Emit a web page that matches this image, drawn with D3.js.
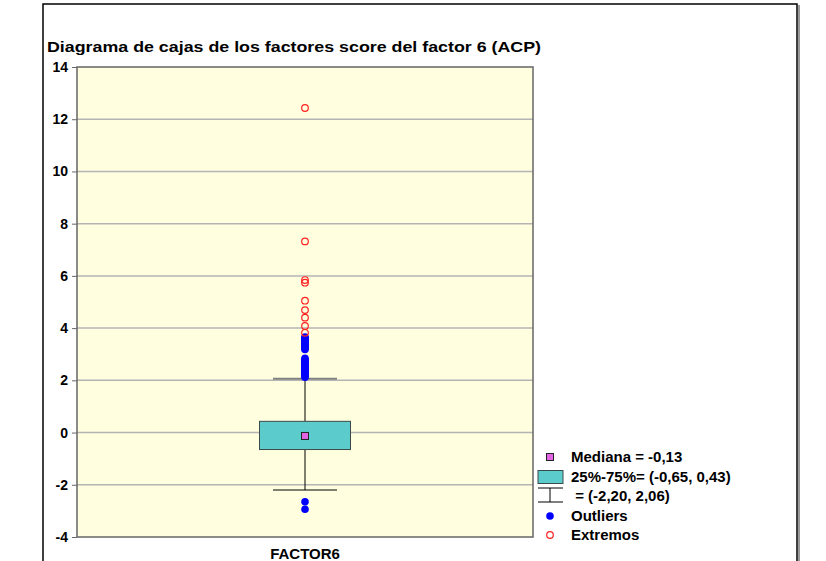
<!DOCTYPE html>
<html>
<head>
<meta charset="utf-8">
<script src="https://cdn.jsdelivr.net/npm/d3@7"></script>
<style>
  body { margin: 0; background: #fff; }
  text { font-family: Arial, "Liberation Sans", sans-serif; font-weight: bold; fill: #000; }
</style>
</head>
<body>
<svg id="chart" width="826" height="561"></svg>
<script>
// data
var category = "FACTOR6"
var yTicks = [-4, -2, 0, 2, 4, 6, 8, 10, 12, 14]
var median = -0.13
var quartiles = [-0.65, 0.43]
var whiskers = [-2.20, 2.06]
var outliers = [-2.65, -2.94,
  2.12, 2.16, 2.20, 2.24, 2.28, 2.32, 2.36, 2.40, 2.44, 2.48, 2.52, 2.56, 2.60, 2.64, 2.68, 2.72, 2.76, 2.80, 2.84,
  3.18, 3.22, 3.26, 3.30, 3.34, 3.38, 3.42, 3.46, 3.50, 3.54, 3.58, 3.62, 3.66]
var extremes = [3.82, 4.08, 4.40, 4.69, 5.05, 5.74, 5.84, 7.32, 12.43]
var legendLabels = ["Mediana = -0,13", "25%-75%= (-0,65, 0,43)", " = (-2,20, 2,06)", "Outliers", "Extremos"]

var svg = d3.select("#chart")
var plot = {left: 77, top: 67, right: 533, bottom: 537}

var x = d3.scaleBand().domain([category]).range([plot.left, plot.right])
var y = d3.scaleLinear().domain([-4, 14]).range([plot.bottom, plot.top])
var cx = x(category) + x.bandwidth() / 2

// outer frame
svg.append("line").attr("x1", 799).attr("y1", 5).attr("x2", 799).attr("y2", 561).attr("stroke", "#999").attr("stroke-width", 2)
svg.append("path").attr("d", "M43,561 V4 H797 V561").attr("fill", "none").attr("stroke", "#000").attr("stroke-width", 1.5)

svg.append("text").attr("x", 47).attr("y", 52).attr("font-size", 15)
  .attr("textLength", 494).attr("lengthAdjust", "spacingAndGlyphs")
  .text("Diagrama de cajas de los factores score del factor 6 (ACP)")

/*
plot background and grid
*/
svg.append("rect").attr("x", plot.left).attr("y", plot.top)
  .attr("width", plot.right - plot.left).attr("height", plot.bottom - plot.top)
  .attr("fill", "#ffffdf")

svg.selectAll(".grid").data(yTicks.filter(d => d > -4 && d < 14)).enter()
  .append("line").attr("class", "grid")
  .attr("x1", plot.left).attr("x2", plot.right)
  .attr("y1", d => y(d)).attr("y2", d => y(d))
  .attr("stroke", "#b4b4b4").attr("stroke-width", 1.5)

var yAxis = svg.append("g").attr("transform", "translate(" + plot.left + ",0)")
  .call(d3.axisLeft(y).tickValues(yTicks).tickSize(5).tickPadding(4).tickFormat(d => String(d)))
yAxis.select(".domain").remove()
yAxis.selectAll(".tick line").attr("stroke", "#666")
yAxis.selectAll(".tick text").attr("font-size", 14).attr("font-family", "Arial, 'Liberation Sans', sans-serif").attr("font-weight", "bold").attr("fill", "#000")

/*
box and whiskers
*/
var boxW = 91, capW = 64
svg.append("line").attr("x1", cx).attr("x2", cx).attr("y1", y(whiskers[1])).attr("y2", y(quartiles[1])).attr("stroke", "#000")
svg.append("line").attr("x1", cx).attr("x2", cx).attr("y1", y(quartiles[0])).attr("y2", y(whiskers[0])).attr("stroke", "#000")
svg.append("line").attr("x1", cx - capW / 2).attr("x2", cx + capW / 2).attr("y1", y(whiskers[1])).attr("y2", y(whiskers[1])).attr("stroke", "#808080").attr("stroke-width", 2)
svg.append("line").attr("x1", cx - capW / 2).attr("x2", cx + capW / 2).attr("y1", y(whiskers[0])).attr("y2", y(whiskers[0])).attr("stroke", "#000")

svg.append("rect").attr("x", cx - boxW / 2).attr("y", y(quartiles[1]))
  .attr("width", boxW).attr("height", y(quartiles[0]) - y(quartiles[1]))
  .attr("fill", "#5ccbcc").attr("stroke", "#3a4a4a")
svg.append("rect").attr("x", cx - 3.5).attr("y", y(median) - 3.5).attr("width", 7).attr("height", 7)
  .attr("fill", "#e264e2").attr("stroke", "#222")

svg.selectAll(".outlier").data(outliers).enter()
  .append("circle").attr("class", "outlier")
  .attr("cx", cx).attr("cy", d => y(d)).attr("r", 3.8).attr("fill", "#0000ff")
svg.selectAll(".extreme").data(extremes).enter()
  .append("circle").attr("class", "extreme")
  .attr("cx", cx).attr("cy", d => y(d)).attr("r", 3.3).attr("fill", "none").attr("stroke", "#ff2020").attr("stroke-width", 1.2)

// plot frame on top
svg.append("rect").attr("x", plot.left).attr("y", plot.top)
  .attr("width", plot.right - plot.left).attr("height", plot.bottom - plot.top)
  .attr("fill", "none").attr("stroke", "#666").attr("stroke-width", 1.5)

svg.append("text").attr("x", cx).attr("y", 559).attr("text-anchor", "middle").attr("font-size", 15).text(category)

/*
legend
*/
var legY = [457, 477, 496, 516, 535], legX = 550
var lg = svg.append("g")
lg.append("rect").attr("x", legX - 3.5).attr("y", legY[0] - 3.5).attr("width", 7).attr("height", 7).attr("fill", "#e264e2").attr("stroke", "#222")
lg.append("rect").attr("x", 538).attr("y", legY[1] - 6.5).attr("width", 25).attr("height", 13).attr("fill", "#5ccbcc").attr("stroke", "#3a4a4a")
lg.append("path").attr("d", "M538," + (legY[2] - 8) + "H563M" + legX + "," + (legY[2] - 8) + "V" + (legY[2] + 6) + "M538," + (legY[2] + 6) + "H563")
  .attr("fill", "none").attr("stroke", "#000")
lg.append("circle").attr("cx", legX).attr("cy", legY[3]).attr("r", 3.8).attr("fill", "#0000ff")
lg.append("circle").attr("cx", legX).attr("cy", legY[4]).attr("r", 3.3).attr("fill", "none").attr("stroke", "#ff2020").attr("stroke-width", 1.2)
lg.selectAll(".legText").data(legendLabels).enter()
  .append("text").attr("class", "legText")
  .attr("x", 571).attr("y", (d, i) => legY[i] + 5)
  .attr("font-size", 15)
  .attr("xml:space", "preserve")
  .text(d => d)
</script>
</body>
</html>
